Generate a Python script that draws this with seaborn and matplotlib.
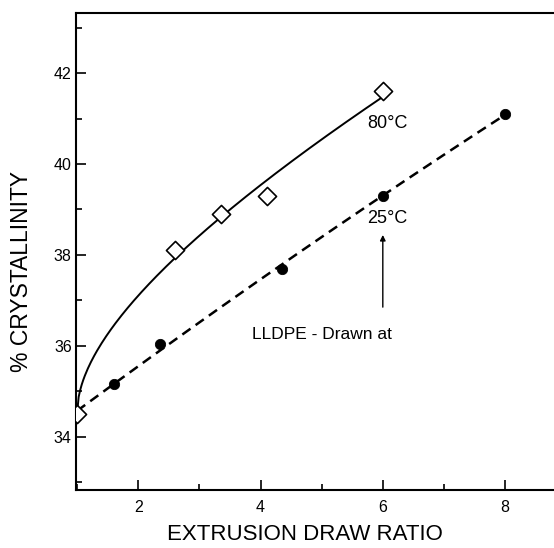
import numpy as np
import pandas as pd
import seaborn as sns
from matplotlib import pyplot as plt
from matplotlib.ticker import MultipleLocator

# drawn at 80 C (open diamonds)
draw_80 = [1.0, 2.6, 3.35, 4.1, 6.0]
cryst_80 = [34.5, 38.1, 38.9, 39.3, 41.6]
# drawn at 25 C (filled circles)
draw_25 = [1.0, 1.6, 2.35, 4.35, 6.0, 8.0]
cryst_25 = [34.5, 35.15, 36.05, 37.7, 39.3, 41.1]

sns.set_style("ticks")
plt.rcParams['font.family'] = ['Liberation Sans', 'DejaVu Sans']
plt.rcParams.update({"text.color": "k", "axes.labelcolor": "k",
                     "xtick.color": "k", "ytick.color": "k"})

fig = plt.figure(figsize=(5.54, 5.48), dpi=100)
ax = fig.add_axes([0.137, 0.106, 0.863, 0.871])
ax: plt.Axes

# smooth curves through the points
x80 = np.array(draw_80)
c80 = np.polyfit(np.sqrt(x80 - 1), cryst_80, 2)
xs80 = np.linspace(x80.min(), x80.max(), 200)
fit80 = pd.DataFrame({"x": xs80, "y": np.polyval(c80, np.sqrt(xs80 - 1))})

x25 = np.array(draw_25)
c25 = np.polyfit(x25, cryst_25, 2)
xs25 = np.linspace(x25.min(), x25.max(), 200)
fit25 = pd.DataFrame({"x": xs25, "y": np.polyval(c25, xs25)})

sns.lineplot(data=fit80, x="x", y="y", ax=ax, color="k", lw=1.4)
sns.lineplot(data=fit25, x="x", y="y", ax=ax, color="k", lw=1.8,
             linestyle=(0, (4, 2.5)))

sns.scatterplot(x=draw_25, y=cryst_25, ax=ax, marker="o", s=55,
                color="k", edgecolor="k", zorder=3)
sns.scatterplot(x=draw_80, y=cryst_80, ax=ax, marker="D", s=85,
                facecolor="white", edgecolor="k", linewidth=1.2, zorder=4)

ax.text(6.07, 40.9, "80°C", fontsize=13, ha="center", va="center")
ax.text(6.08, 38.8, "25°C", fontsize=13, ha="center", va="center")
ax.text(3.86, 36.24, "LLDPE - Drawn at", fontsize=12.5, ha="left", va="center")
ax.annotate("", xy=(6.0, 38.5), xytext=(6.0, 36.79),
            arrowprops=dict(arrowstyle="-|>", lw=1, color="k", mutation_scale=8))

ax.set_xlim(0.98, 8.8)
ax.set_ylim(32.83, 43.33)
ax.xaxis.set_major_locator(MultipleLocator(2))
ax.xaxis.set_minor_locator(MultipleLocator(1))
ax.yaxis.set_major_locator(MultipleLocator(2))
ax.yaxis.set_minor_locator(MultipleLocator(1))
ax.tick_params(which="major", direction="in", length=7, width=1.2, labelsize=11.5)
ax.tick_params(axis="x", which="major", pad=7)
ax.tick_params(axis="y", which="major", pad=3)
ax.tick_params(which="minor", direction="in", length=4.5, width=1.2)

for side in ["left", "bottom", "top"]:
    ax.spines[side].set_linewidth(1.5)
    ax.spines[side].set_color("k")
ax.spines["right"].set_visible(False)

ax.set_xlabel("EXTRUSION DRAW RATIO", fontsize=16)
ax.set_ylabel("% CRYSTALLINITY", fontsize=16.5)
ax.xaxis.set_label_coords(0.48, -0.072)
ax.yaxis.set_label_coords(-0.09, 0.457)

plt.savefig("out.png", dpi=100)
